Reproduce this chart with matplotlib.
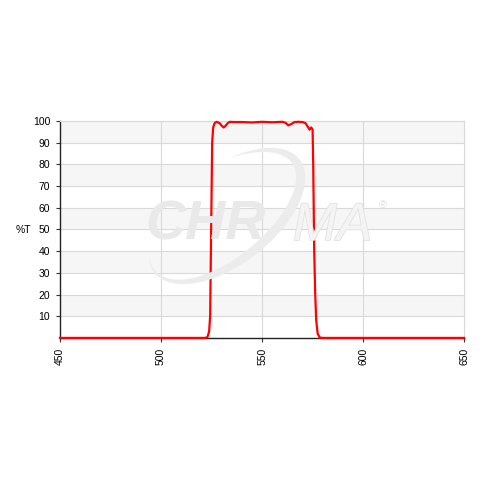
'''Chroma filter transmission curve'''

import numpy as np
import matplotlib.pyplot as plt
import matplotlib.patheffects as pe
from matplotlib.patches import Polygon

plt.rcParams['font.family'] = ['Liberation Sans', 'DejaVu Sans']

# wavelength (nm) and transmission (%T)
wavelength = [450, 520, 522, 523, 523.8, 524.3, 524.8, 525.3, 525.8, 526.5,
              527.5, 529, 530, 531, 532, 533, 534, 536, 540, 545, 550, 555,
              560, 561.5, 563, 564.5, 566, 568, 570, 571.5, 572.5, 573.5,
              574.3, 575, 575.3, 575.8, 576.3, 576.8, 577.5, 578.5, 580, 650]
transmission = [0, 0, 0, 0.5, 3, 10, 50, 90, 97, 99,
                99.6, 99, 97.8, 97, 97.8, 99, 99.6, 99.5, 99.5, 99.3, 99.6, 99.4,
                99.6, 99.2, 98, 98.6, 99.5, 99.6, 99.5, 99, 97.5, 96,
                97, 96, 80, 40, 20, 8, 2, 0.2, 0, 0]

y_ticks = [10, 20, 30, 40, 50, 60, 70, 80, 90, 100]
x_ticks = [450, 500, 550, 600, 650]

fig = plt.figure(figsize=(4.8, 4.8), dpi=100)
ax = fig.add_axes([0.125, 0.296, 0.842, 0.452])

ax.set_xlim(450, 650)
ax.set_ylim(0, 100)

# alternating bands like the original
for lo in range(10, 100, 20):
    ax.axhspan(lo, lo + 10, color='#f6f6f6', zorder=0, lw=0)

for y in y_ticks:
    ax.axhline(y, color='#d9d9d9', lw=0.8, zorder=1)
for x in x_ticks[1:-1]:
    ax.axvline(x, color='#d9d9d9', lw=0.8, zorder=1)

# watermark: CHR + swoosh + MA (pixel positions, image coords)
def fpos(px, py):
    return px / 480, 1 - py / 480

wm = '#e9e9e9'
fig.text(*fpos(145, 240), 'CHR', ha='left', va='baseline', fontsize=40,
         fontweight='bold', style='italic', color=wm, zorder=1.5)
fig.text(*fpos(293, 240), 'MA', ha='left', va='baseline', fontsize=38,
         style='italic', color='#f4f4f4', zorder=1.5,
         path_effects=[pe.withStroke(linewidth=1.2, foreground='#e2e2e2')])
fig.text(*fpos(383, 205), '®', ha='center', va='center', fontsize=8,
         color='#e2e2e2', zorder=1.5)

# crescent swoosh, thick on the right, thin at both ends
cx, cy = 227, 216
a, b = 92, 48
ang = np.deg2rad(38)
u = np.array([np.cos(ang), -np.sin(ang)])
v = np.array([-np.sin(ang), -np.cos(ang)])
t0, tp, t1 = np.deg2rad(66), np.deg2rad(-40), np.deg2rad(-200)
t = np.linspace(t0, t1, 160)
s = np.where(t > tp, 0.5 * (t0 - t) / (t0 - tp), 0.5 + 0.5 * (tp - t) / (tp - t1))
w = 10 * np.sin(np.pi * s)
outer = np.array([cx, cy]) + np.outer(a * np.cos(t), u) + np.outer(b * np.sin(t), v)
inner = np.array([cx, cy]) + np.outer((a - w) * np.cos(t), u) + np.outer((b - w) * np.sin(t), v)
pts = np.vstack([outer, inner[::-1]])
pts = np.column_stack([pts[:, 0] / 480, 1 - pts[:, 1] / 480])
fig.patches.append(Polygon(pts, closed=True, transform=fig.transFigure,
                           facecolor='#ececec', edgecolor='none', zorder=1.4))

ax.plot(wavelength, transmission, color='#ff0000', lw=1.6, zorder=3, clip_on=False)

ax.set_yticks(y_ticks)
ax.set_xticks(x_ticks)
ax.set_xticklabels([str(x) for x in x_ticks], rotation=90)
ax.tick_params(axis='both', labelsize=7.5, length=3, width=0.8, color='#333333', pad=4)

for side in ['top', 'right']:
    ax.spines[side].set_color('#d9d9d9')
    ax.spines[side].set_linewidth(0.8)
for side in ['left', 'bottom']:
    ax.spines[side].set_color('#222222')
    ax.spines[side].set_linewidth(1.0)

fig.text(*fpos(23, 230), '%T', ha='center', va='center', fontsize=7.5)

ax.patch.set_alpha(0)
fig.savefig('out.png', dpi=100)
